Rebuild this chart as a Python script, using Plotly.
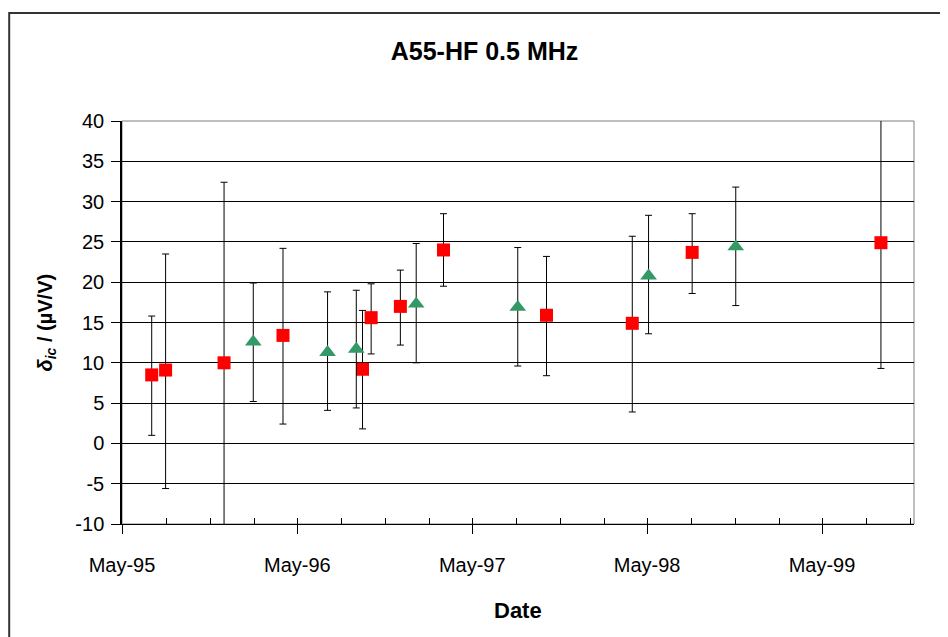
import plotly.graph_objects as go

# ---- data ----
red_dates = ["1995-07-02", "1995-07-31", "1995-11-30", "1996-04-01", "1996-09-14",
             "1996-10-02", "1996-12-02", "1997-03-02", "1997-10-03", "1998-03-31",
             "1998-08-03", "1999-09-01"]
red_values = [8.5, 9.1, 10.0, 13.4, 9.2, 15.6, 17.0, 24.0, 15.9, 14.9, 23.7, 24.9]
red_upper = [15.8, 23.5, 32.4, 24.2, 16.5, 19.8, 21.5, 28.5, 23.2, 25.7, 28.5, 40.5]
red_lower = [1.0, -5.6, -10.9, 2.4, 1.8, 11.1, 12.2, 19.5, 8.4, 3.9, 18.6, 9.3]

green_dates = ["1996-01-30", "1996-07-03", "1996-09-01", "1997-01-04", "1997-08-04",
               "1998-05-04", "1998-11-02"]
green_values = [12.6, 11.3, 11.7, 17.3, 16.9, 20.8, 24.4]
green_upper = [19.9, 18.8, 19.0, 24.8, 24.3, 28.3, 31.8]
green_lower = [5.2, 4.1, 4.4, 10.0, 9.6, 13.6, 17.1]

y_tickvals = [-10, -5, 0, 5, 10, 15, 20, 25, 30, 35, 40]
y_ticktext = ["-10", "-5", "0", "5", "10", "15", "20", "25", "30", "35", "40"]

title_text = "A55-HF 0.5 MHz"
x_title = "Date"
y_title = "<i>δ<sub>ic</sub></i> / (µV/V)"
x_range = ["1995-05-01", "1999-11-09"]
y_range = [-10, 40]

FONT = "Liberation Sans, Arial, sans-serif"

# figure is shown with an 8px page offset; margins compensate
W, H = 948, 637
ML, MR, MT, MB = 114, 42, 113, 121
PW, PH = W - ML - MR, H - MT - MB


def err(values, upper, lower):
    return dict(type="data", symmetric=False,
                array=[u - v for u, v in zip(upper, values)],
                arrayminus=[v - l for v, l in zip(values, lower)],
                color="black", thickness=1, width=3.5)


fig = go.Figure()
fig.add_trace(go.Scatter(
    x=red_dates, y=red_values, mode="markers", cliponaxis=False,
    marker=dict(symbol="square", size=13, color="#FF0000", line=dict(width=0)),
    error_y=err(red_values, red_upper, red_lower), showlegend=False))
fig.add_trace(go.Scatter(
    x=green_dates, y=green_values, mode="markers", cliponaxis=False,
    marker=dict(symbol="triangle-up", size=14.5, color="#339966", line=dict(width=0)),
    error_y=err(green_values, green_upper, green_lower), showlegend=False))

fig.update_layout(
    width=W, height=H,
    margin=dict(l=ML, r=MR, t=MT, b=MB, autoexpand=False),
    paper_bgcolor="white", plot_bgcolor="white",
    font=dict(family=FONT, color="black", size=20),
    showlegend=False,
    title=dict(text="<b>" + title_text + "</b>", x=(484.5 - 8 - ML) / PW, xref="paper",
               xanchor="center", y=1 - 43 / H, yanchor="middle", yref="container",
               font=dict(size=25, family=FONT, color="black")),
    xaxis=dict(type="date", range=x_range, tickformat="%b-%y", dtick="M12",
               tick0="1995-05-01", ticks="outside", ticklen=9, tickwidth=1,
               tickcolor="black", showline=True, linecolor="black", linewidth=1,
               showgrid=False, zeroline=False, ticklabelstandoff=14,
               tickfont=dict(size=20, family=FONT)),
    xaxis2=dict(type="date", range=x_range, overlaying="x", matches="x",
                dtick="M3", tick0="1995-05-01", ticks="inside", ticklen=6,
                tickwidth=1, tickcolor="black", showticklabels=False,
                showgrid=False, showline=False, zeroline=False),
    yaxis=dict(range=y_range, tickvals=y_tickvals, ticktext=y_ticktext,
               ticks="outside", ticklen=9,
               tickwidth=1, tickcolor="black", showline=True, linecolor="black",
               linewidth=1.5, showgrid=True, gridcolor="black", gridwidth=1,
               zeroline=False, ticklabelstandoff=3,
               tickfont=dict(size=20, family=FONT)),
    shapes=[
        # plot area border (gray)
        dict(type="rect", xref="x domain", yref="y domain", x0=0, x1=1, y0=0, y1=1,
             line=dict(color="#808080", width=1), layer="below"),
        # outer chart frame
        dict(type="rect", xref="paper", yref="paper",
             x0=(1.2 - ML) / PW, x1=(W + 20 - ML) / PW,
             y0=(H - MB - (H + 30)) / PH, y1=(H - MB - 5.0) / PH,
             line=dict(color="#333333", width=2)),
    ],
    annotations=[
        dict(text="<b>" + x_title + "</b>", xref="paper", yref="paper", x=0.5, y=0,
             yshift=-86, xanchor="center", yanchor="middle", showarrow=False,
             font=dict(size=22, family=FONT)),
        dict(text="<b>" + y_title + "</b>", xref="paper", yref="paper", x=0, y=0.5,
             xshift=-(122 - 46), xanchor="center", yanchor="middle", textangle=-90,
             showarrow=False, font=dict(size=20, family=FONT)),
    ],
)

# invisible helper so the overlay tick axis is drawn
fig.add_trace(go.Scatter(x=[], y=[], xaxis="x2", yaxis="y", showlegend=False,
                         hoverinfo="skip"))

fig.write_html("out.html")
